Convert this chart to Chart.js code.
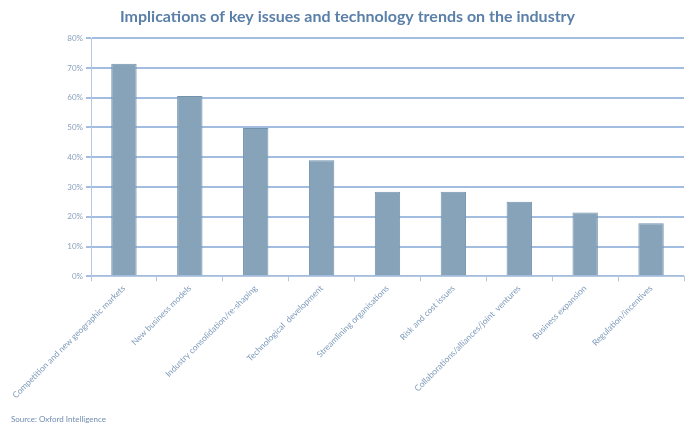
<!DOCTYPE html>
<html><head><meta charset="utf-8">
<script src="https://cdn.jsdelivr.net/npm/chart.js@4.4.1/dist/chart.umd.min.js"></script>
<style>html,body{margin:0;padding:0;background:#fff;}#wrap{width:690px;height:430px;}</style>
</head><body><div id="wrap"><canvas id="c" width="690" height="430"></canvas></div>
<script>
const categories = ["Competition and new geographic markets","New business models","Industry consolidation/re-shaping","Technological  development","Streamlining organisations","Risk and cost issues","Collaborations/alliances/joint  ventures","Business expansion","Regulation/incentives"];
const values = [71.4, 60.6, 49.8, 39.0, 28.4, 28.4, 25.0, 21.4, 17.8];
const titleText = "Implications of key issues and technology trends on the industry";
const sourceText = "Source: Oxford Intelligence";

new Chart(document.getElementById('c'), {
  type: 'bar',
  data: { labels: categories, datasets: [{ data: values, backgroundColor: '#87a3ba', borderColor: '#7293ae', borderWidth: 1, barPercentage: 0.77, categoryPercentage: 0.5 }] },
  options: {
    responsive: false, animation: false,
    layout: { padding: { left: 11, right: 6, top: 2, bottom: 6 } },
    plugins: {
      legend: { display: false }, tooltip: { enabled: false },
      title: { display: true, text: titleText, color: '#5a7fa8', font: { family: 'Lato', size: 16, weight: 'bold' }, padding: { top: 5, bottom: 12 } },
      subtitle: { display: true, text: sourceText, position: 'bottom', align: 'start', color: '#6f8db0', font: { family: 'Lato', size: 8 }, padding: { top: 12, bottom: 0 } }
    },
    scales: {
      x: {
        grid: { display: true, offset: true, drawOnChartArea: false, color: '#b5c8de', tickLength: 5 },
        border: { color: '#b5c8de', width: 1 },
        ticks: { color: '#7f9bbb', font: { family: 'Lato', size: 8.5 }, minRotation: 45, maxRotation: 45, autoSkip: false, padding: 2 }
      },
      y: {
        min: 0, max: 80,
        afterFit: s => { s.width = 80; },
        grid: { color: '#a3bde0', lineWidth: 2, tickLength: 5, drawTicks: true },
        border: { color: '#b5c8de', width: 1 },
        ticks: { stepSize: 10, color: '#8aa1bd', font: { family: 'Lato', size: 8 }, padding: 3, callback: v => v + '%' }
      }
    }
  }
});
</script></body></html>
